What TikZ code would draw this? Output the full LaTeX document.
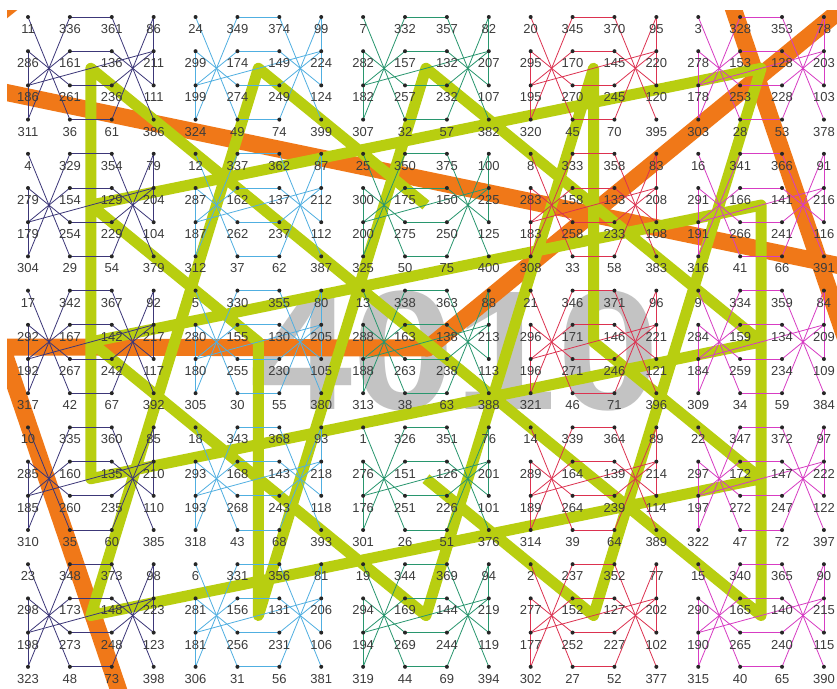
\documentclass[tikz,border=0pt]{standalone}
\usepackage{fontspec}
\setmainfont{Liberation Sans}
\definecolor{yg}{RGB}{184,206,16}
\definecolor{org}{RGB}{240,120,24}
\definecolor{bk0}{RGB}{60,55,120}
\definecolor{bk1}{RGB}{80,175,225}
\definecolor{bk2}{RGB}{40,150,110}
\definecolor{bk3}{RGB}{220,50,80}
\definecolor{bk4}{RGB}{215,60,195}
\definecolor{numc}{RGB}{60,60,60}
\definecolor{bigg}{RGB}{195,195,195}
\tikzset{
  numtext/.style={font=\fontsize{13}{13}\selectfont, text=numc, inner sep=0pt},
  dotmark/.style={fill=black!85},
  blkline/.style={line width=0.8pt},
  ygpath/.style={draw=yg, line width=11pt, line join=round},
  orpath/.style={draw=org, line width=17pt, line join=round},
  bigtext/.style={font=\fontsize{170}{170}\selectfont\bfseries, text=bigg, inner sep=0pt}
}
\begin{document}
\begin{tikzpicture}[x=1pt,y=-1pt]
\useasboundingbox (0,0) rectangle (837,688);
\fill[white] (0,0) rectangle (837,688);
\def\Rlist{{11,24,7,20,3,4,12,25,8,16,17,5,13,21,9,10,18,1,14,22,23,6,19,2,15}}
\def\Klist{{0,13,14,3,11,6,5,8,7,10,9,4,12,1,2,15}}
% grid coordinates
\foreach \r in {0,...,4}{
  \foreach \c in {0,...,4}{
    \pgfmathtruncatemacro\q{\Rlist[\r*5+\c]}
    \coordinate (c\q) at ({28+41.89*(4*\c+1.5)},{17+34.2*(4*\r+1.5)});
    \foreach \i in {0,...,3}{
      \foreach \j in {0,...,3}{
        \pgfmathtruncatemacro\num{\q+25*\Klist[\i*4+\j]}
        \coordinate (p\num) at ({28+41.89*(4*\c+\j)},{17+34.2*(4*\r+\i)});
      }
    }
  }
}
% big grey sum
\node[bigtext] (big) at (455,351) {\scalebox{1.08}[1]{4010}};
% orange bands
\begin{scope}
  \clip (7,10) rectangle (837,688);
  \coordinate (oa1) at (-20,87);
  \coordinate (oa2) at (860,270);
  \draw[orpath] (oa1) -- (oa2);
  \coordinate (ob1) at (860,-6);
  \coordinate (ob2) at (428,348);
  \coordinate (ob3) at (2,347);
  \coordinate (ob4) at (122,700);
  \draw[orpath] (ob1) -- (ob2) -- (ob3) -- (ob4);
  \coordinate (oc1) at (-10,21);
  \coordinate (oc2) at (25,-7);
  \draw[orpath] (oc1) -- (oc2);
  \coordinate (od1) at (727,-10);
  \coordinate (od2) at (846,340);
  \draw[orpath] (od1) -- (od2);
\end{scope}
% yellow-green path through block centres 1..25
\draw[ygpath] (c1) foreach \q in {2,...,25}{ -- (c\q) };
% thin paths inside blocks
\foreach \r in {0,...,4}{
  \foreach \c in {0,...,4}{
    \pgfmathtruncatemacro\q{\Rlist[\r*5+\c]}
    \foreach \k in {0,...,14}{
      \pgfmathtruncatemacro\a{\q+25*\k}
      \pgfmathtruncatemacro\b{\a+25}
      \draw[blkline, draw=bk\c] (p\a) -- (p\b);
    }
  }
}
% dots and numbers
\foreach \n in {1,...,400}{
  \fill[dotmark] (p\n) circle (2pt);
  \node[numtext, yshift=-12pt] (n\n) at (p\n) {\ifnum\n=327 237\else\n\fi};
}
\end{tikzpicture}
\end{document}
